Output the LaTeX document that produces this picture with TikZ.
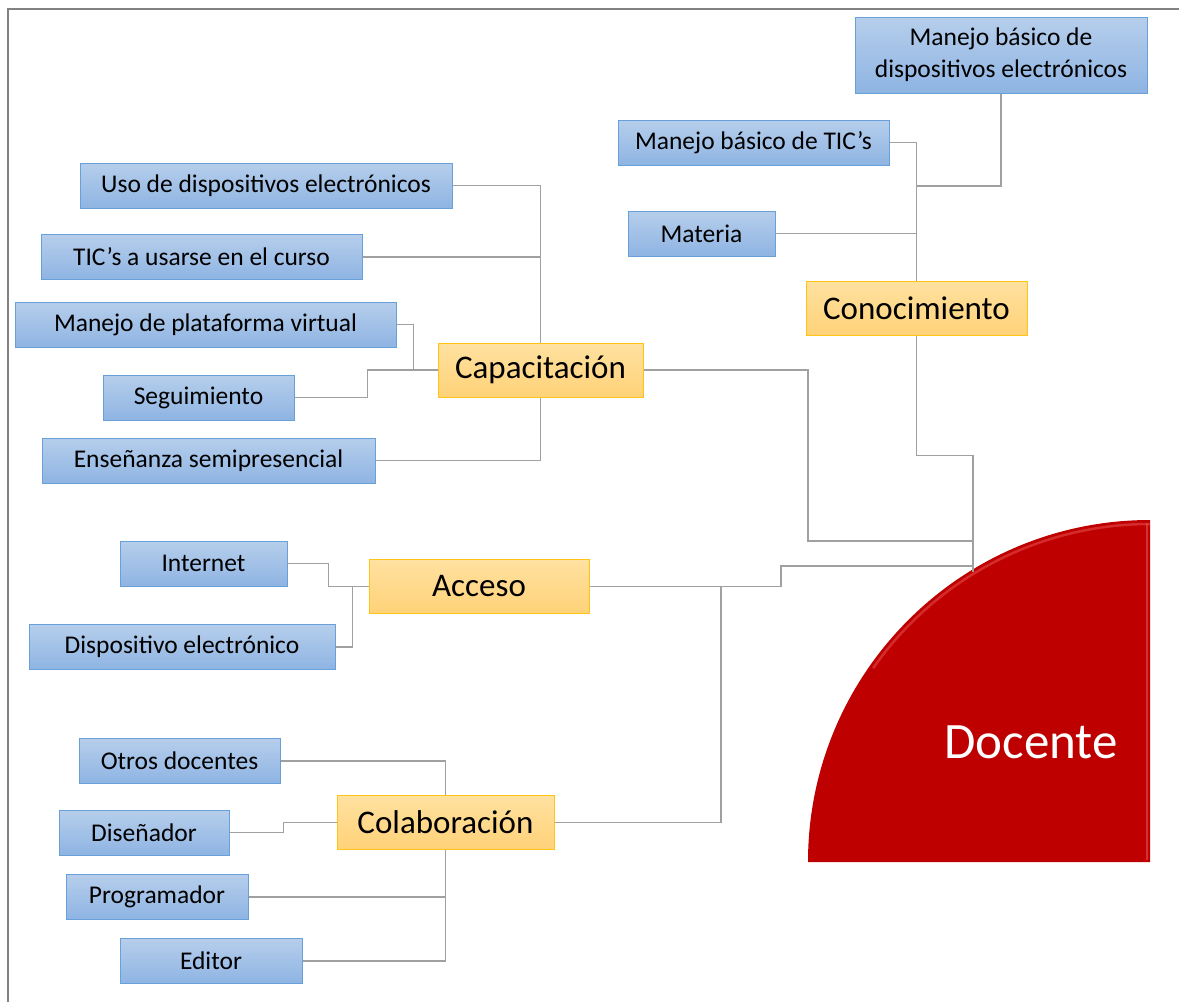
\documentclass[tikz,border=0pt]{standalone}
\usepackage{fontspec}
\setmainfont{Carlito}
\definecolor{linegray}{RGB}{160,160,160}
\definecolor{framegray}{RGB}{130,130,130}
\definecolor{leaftop}{RGB}{182,206,235}
\definecolor{leafbot}{RGB}{142,180,227}
\definecolor{leafedge}{RGB}{104,160,218}
\definecolor{hubtop}{RGB}{255,225,160}
\definecolor{hubbot}{RGB}{255,210,120}
\definecolor{hubedge}{RGB}{255,196,20}
\definecolor{docred}{RGB}{190,0,0}
\definecolor{docrim}{RGB}{232,80,80}
\begin{document}
\begin{tikzpicture}[x=1pt,y=-1pt,
  leaf/.style={draw=leafedge, line width=1pt, top color=leaftop, bottom color=leafbot,
    inner sep=0pt, minimum height=45, font=\fontsize{25.5}{32}\selectfont},
  hub/.style={draw=hubedge, line width=1pt, top color=hubtop, bottom color=hubbot,
    inner sep=0pt, minimum height=54, font=\fontsize{33}{40}\selectfont},
  conn/.style={draw=linegray, line width=1.6pt}]
\useasboundingbox (0,0) rectangle (1179,1002);

% page edges
\draw[framegray, line width=2] (8,1002) -- (8,9) -- (1179,9);

% quarter disc for the central actor
\fill[docred] (1150,862) -- (808,862) arc[start angle=180, end angle=270, radius=342] -- cycle;
\draw[docrim, line width=2.5pt, opacity=0.55] (1150,862) ++(215:338) arc[start angle=215, end angle=270, radius=338];
\draw[docrim, line width=1.5pt, opacity=0.6] (1147,523) -- (1147,860);
\node[text=white, font=\fontsize{51}{60}\selectfont] (doc) at (1031,742) {Docente};
\coordinate (docin) at (973,572);

% leaves
\node[leaf, minimum width=292, minimum height=76, align=center] (mbd) at (1001,55) {Manejo básico de\\dispositivos electrónicos};
\node[leaf, minimum width=271] (mtic) at (753.5,142.5) {Manejo básico de TIC’s};
\node[leaf, minimum width=147] (mat) at (701.5,233.5) {Materia};
\node[leaf, minimum width=372] (uso) at (266,185.5) {Uso de dispositivos electrónicos};
\node[leaf, minimum width=321] (tic) at (201.5,257) {TIC’s a usarse en el curso};
\node[leaf, minimum width=381] (plat) at (205.5,324.5) {Manejo de plataforma virtual};
\node[leaf, minimum width=191] (seg) at (198.5,397.5) {Seguimiento};
\node[leaf, minimum width=333] (ens) at (208.5,460.5) {Enseñanza semipresencial};
\node[leaf, minimum width=167] (int) at (203.5,563.5) {Internet};
\node[leaf, minimum width=306] (disp) at (182,647) {Dispositivo electrónico};
\node[leaf, minimum width=201] (otr) at (179.5,761) {Otros docentes};
\node[leaf, minimum width=170] (dis) at (144,832.5) {Diseñador};
\node[leaf, minimum width=182] (prog) at (157,897) {Programador};
\node[leaf, minimum width=182] (edi) at (211,961) {Editor};

% hubs
\node[hub, minimum width=221] (con) at (916.5,308) {Conocimiento};
\node[hub, minimum width=205] (cap) at (540.5,370) {Capacitación};
\node[hub, minimum width=220] (acc) at (479,586.5) {Acceso};
\node[hub, minimum width=217] (col) at (445.5,822.5) {Colaboración};

% Conocimiento branch
\draw[conn] (mbd.south) |- (con.north |- 0,186);
\draw[conn] (mtic.east) -| (con.north);
\draw[conn] (mat.east) -- (mat.east -| con.north);

% Capacitación branch
\draw[conn] (uso.east) -| (cap.north);
\draw[conn] (tic.east) -- (tic.east -| cap.north);
\draw[conn] (plat.east) -- ++(17,0) |- (cap.west);
\draw[conn] (seg.east) -- ++(73,0) |- (cap.west);
\draw[conn] (ens.east) -| (cap.south);

% Acceso branch
\draw[conn] (int.east) -- ++(41,0) |- (acc.west);
\draw[conn] (disp.east) -- ++(17,0) |- (acc.west);

% Colaboración branch
\draw[conn] (otr.east) -| (col.north);
\draw[conn] (dis.east) -- ++(54,0) |- (col.west);
\draw[conn] (prog.east) -| (col.south);
\draw[conn] (edi.east) -| (col.south);

% hubs to Docente
\coordinate (capbend) at (808,541);
\coordinate (accbend) at (781,566);
\coordinate (coljoin) at (721,586.5);
\draw[conn] (con.south) -- ++(0,120) -| (docin);
\draw[conn] (cap.east) -| (capbend) -- (capbend -| docin);
\draw[conn] (acc.east) -| (accbend) -- (accbend -| docin);
\draw[conn] (col.east) -| (coljoin);
\end{tikzpicture}
\end{document}
